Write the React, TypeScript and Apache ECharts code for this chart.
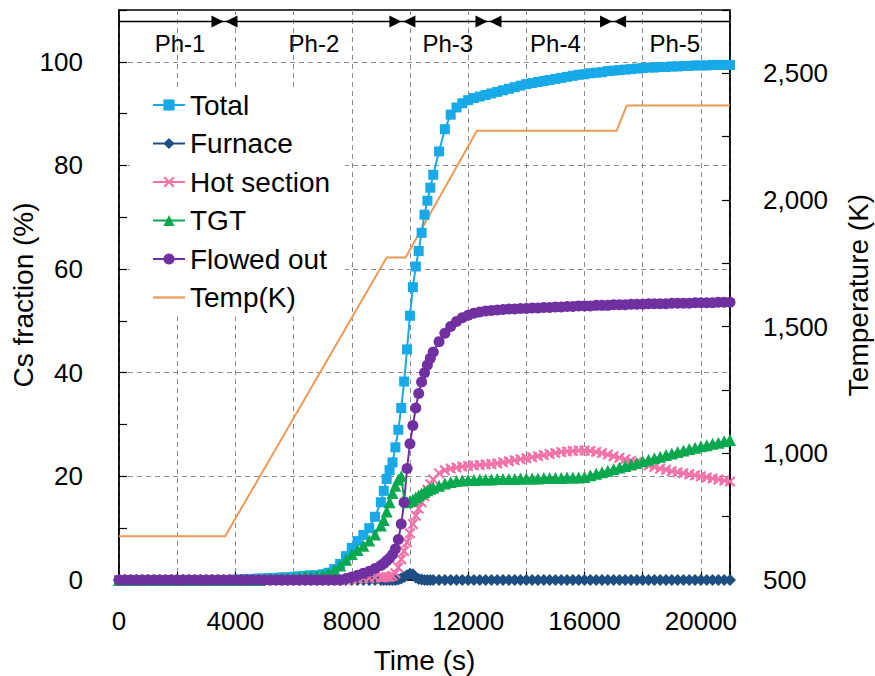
import React, { useEffect, useRef } from "react";
import * as echarts from "echarts";

const TIME = [
  0, 200, 400, 600, 800, 1000, 1200, 1400, 1600, 1800, 2000, 2200, 2400, 2600, 2800, 3000, 3200, 3400, 3600, 3800,
  4000, 4200, 4400, 4600, 4800, 5000, 5200, 5400, 5600, 5800, 6000, 6200, 6400, 6600, 6800, 7000, 7200, 7400, 7600, 7800,
  8000, 8200, 8400, 8600, 8800, 9000,
  9100, 9200, 9300, 9400, 9500, 9600, 9700, 9800, 9900, 10000, 10100, 10200, 10300, 10400, 10500, 10600, 10700, 10800,
  11000, 11200, 11400, 11600, 11800, 12000, 12200, 12400, 12600, 12800, 13000, 13200, 13400, 13600, 13800, 14000,
  14200, 14400, 14600, 14800, 15000, 15200, 15400, 15600, 15800, 16000, 16200, 16400, 16600, 16800, 17000, 17200,
  17400, 17600, 17800, 18000, 18200, 18400, 18600, 18800, 19000, 19200, 19400, 19600, 19800, 20000, 20200, 20400,
  20600, 20800, 21000,
];

const TOTAL = [
  0, 0, 0, 0, 0, 0, 0, 0, 0, 0, 0, 0, 0, 0, 0, 0, 0, 0, 0, 0,
  0.1, 0.1, 0.2, 0.2, 0.3, 0.3, 0.4, 0.4, 0.5, 0.5, 0.6, 0.7, 0.8, 0.9, 0.9, 1.1, 1.4, 2.1, 3.1, 4.6,
  6.2, 7.5, 8.7, 10.0, 12.2, 15.0,
  17.2, 19.5, 21.2, 22.7, 25.6, 29.0, 33.2, 38.3, 44.5, 51.0, 56.5, 60.5, 63.5, 67.0, 70.5, 73.2, 75.7, 78.2,
  82.7, 87.0, 89.8, 91.2, 92.0, 92.6, 93.0, 93.3, 93.6, 93.9, 94.2, 94.5, 94.8, 95.1, 95.4, 95.7,
  95.9, 96.1, 96.3, 96.5, 96.7, 96.9, 97.1, 97.3, 97.5, 97.6, 97.8, 97.9, 98.0, 98.2, 98.3, 98.4,
  98.5, 98.6, 98.7, 98.8, 98.9, 98.9, 99.0, 99.0, 99.1, 99.1, 99.2, 99.2, 99.3, 99.3, 99.3, 99.4,
  99.4, 99.4, 99.4,
];

const FURNACE = [
  0, 0, 0, 0, 0, 0, 0, 0, 0, 0, 0, 0, 0, 0, 0, 0, 0, 0, 0, 0,
  0, 0, 0, 0, 0, 0, 0, 0, 0, 0, 0, 0, 0, 0, 0, 0, 0, 0, 0, 0,
  0, 0, 0, 0, 0, 0,
  0, 0, 0, 0, 0, 0.1, 0.3, 0.6, 0.9, 1.2, 1.1, 0.5, 0.2, 0.1, 0, 0, 0, 0,
  0, 0, 0, 0, 0, 0, 0, 0, 0, 0, 0, 0, 0, 0, 0, 0,
  0, 0, 0, 0, 0, 0, 0, 0, 0, 0, 0, 0, 0, 0, 0, 0,
  0, 0, 0, 0, 0, 0, 0, 0, 0, 0, 0, 0, 0, 0, 0, 0,
  0, 0, 0,
];

const HOT_SECTION = [
  0, 0, 0, 0, 0, 0, 0, 0, 0, 0, 0, 0, 0, 0, 0, 0, 0, 0, 0, 0,
  0, 0, 0, 0, 0, 0, 0, 0, 0, 0, 0, 0, 0, 0, 0, 0, 0, 0, 0, 0,
  0.2, 0.3, 0.4, 0.4, 0.5, 0.5,
  0.5, 0.6, 0.6, 0.8, 1.3, 2.4, 4.0, 5.6, 7.3, 9.0, 10.8, 12.4, 13.8, 15.0, 16.2, 17.4, 18.5, 19.4,
  20.6, 21.2, 21.5, 21.7, 21.9, 22.0, 22.1, 22.2, 22.3, 22.4, 22.5, 22.7, 22.9, 23.1, 23.3, 23.5,
  23.7, 23.9, 24.1, 24.3, 24.5, 24.7, 24.8, 24.9, 25.0, 25.0, 24.9, 24.7, 24.5, 24.2, 23.9, 23.6,
  23.3, 23.0, 22.7, 22.4, 22.1, 21.8, 21.5, 21.3, 21.0, 20.8, 20.6, 20.4, 20.2, 20.0, 19.8, 19.6,
  19.4, 19.2, 19.0,
];

const TGT = [
  0, 0, 0, 0, 0, 0, 0, 0, 0, 0, 0, 0, 0, 0, 0, 0, 0, 0, 0, 0,
  0, 0, 0, 0, 0, 0.2, 0.2, 0.3, 0.4, 0.4, 0.5, 0.6, 0.7, 0.8, 0.8, 1.0, 1.3, 1.9, 2.8, 3.9,
  5.0, 5.8, 6.6, 7.6, 8.8, 10.5,
  11.6, 13.2, 15.0, 16.8, 18.2, 19.4, 20.0, 15.6, 15.0, 15.2, 15.5, 15.9, 16.3, 16.7, 17.0, 17.3, 17.6, 17.8,
  18.2, 18.6, 18.9, 19.1, 19.2, 19.3, 19.3, 19.4, 19.4, 19.4, 19.5, 19.5, 19.5, 19.5, 19.6, 19.6,
  19.6, 19.6, 19.7, 19.7, 19.7, 19.7, 19.8, 19.8, 19.8, 19.9, 20.2, 20.5, 20.8, 21.1, 21.4, 21.7,
  22.0, 22.3, 22.6, 22.9, 23.2, 23.5, 23.8, 24.1, 24.4, 24.7, 25.0, 25.3, 25.5, 25.8, 26.0, 26.3,
  26.5, 26.8, 27.0,
];

const FLOWED_OUT = [
  0, 0, 0, 0, 0, 0, 0, 0, 0, 0, 0, 0, 0, 0, 0, 0, 0, 0, 0, 0,
  0, 0, 0, 0, 0, 0, 0, 0, 0, 0, 0, 0, 0, 0, 0, 0, 0, 0, 0, 0.3,
  0.6, 0.9, 1.3, 1.7, 2.2, 2.8,
  3.2, 3.7, 4.2, 4.9, 6.0, 7.8, 10.8, 15.0, 21.5, 26.3, 29.8, 33.2, 36.0, 38.2, 40.0, 41.5, 42.8, 44.0,
  46.0, 47.6, 48.9, 49.9, 50.6, 51.1, 51.5, 51.7, 51.9, 52.0, 52.1, 52.2, 52.3, 52.3, 52.4, 52.4,
  52.5, 52.5, 52.6, 52.6, 52.7, 52.7, 52.8, 52.8, 52.9, 52.9, 52.9, 53.0, 53.0, 53.0, 53.1, 53.1,
  53.1, 53.2, 53.2, 53.2, 53.3, 53.3, 53.3, 53.3, 53.4, 53.4, 53.4, 53.4, 53.5, 53.5, 53.5, 53.5,
  53.6, 53.6, 53.6,
];

const TEMP_T = [0, 3650, 9200, 9850, 12300, 17100, 17450, 21000];
const TEMP_K = [673, 673, 1773, 1773, 2273, 2273, 2373, 2373];

const PHASE_BOUNDS = [3625, 9740, 12700, 16980];
const PHASE_LABELS = ["Ph-1", "Ph-2", "Ph-3", "Ph-4", "Ph-5"];
const PHASE_LABEL_T = [2100, 6700, 11300, 15000, 19100];

const FONT = "'Liberation Sans', Arial, Helvetica, sans-serif";
const X_SYMBOL =
  "path://M0,1.4L1.4,0L5,3.6L8.6,0L10,1.4L6.4,5L10,8.6L8.6,10L5,6.4L1.4,10L0,8.6L3.6,5Z";
const BAR_ICON = "path://M0,0L32,0L32,2.2L0,2.2Z";

export default function App() {
  const ref = useRef<HTMLDivElement>(null);

  useEffect(() => {
    if (!ref.current) return;
    const chart = echarts.init(ref.current, null, { renderer: "svg" });
    const mk = (arr: number[]) => TIME.map((t, i) => [t, arr[i]]);
    const dash = { color: "#8c8c8c", type: [5, 4] as any, width: 1 };

    const lineSeries = (name: string, arr: number[], color: string, symbol: string, size: number) => ({
      name,
      type: "line",
      data: mk(arr),
      symbol,
      symbolSize: size,
      showAllSymbol: true,
      lineStyle: { color, width: 2 },
      itemStyle: { color },
      z: 3,
    });

    const nameStyle = { fontSize: 28, color: "#000", fontFamily: FONT };

    chart.setOption({
      animation: false,
      backgroundColor: "#fff",
      textStyle: { fontFamily: FONT },
      grid: {
        left: 119,
        right: 145,
        top: 10,
        bottom: 96,
        containLabel: false,
        outerBoundsMode: "none",
        show: true,
        borderColor: "#000",
        borderWidth: 1.5,
        backgroundColor: "transparent",
      },
      legend: {
        orient: "vertical",
        left: 130,
        top: 87,
        padding: [4, 15, 5, 22],
        backgroundColor: "#fff",
        itemWidth: 32,
        itemHeight: 14,
        itemGap: 10.5,
        textStyle: { fontSize: 28, color: "#000", fontFamily: FONT },
        data: [
          "Total",
          "Furnace",
          "Hot section",
          "TGT",
          "Flowed out",
          { name: "Temp(K)", icon: BAR_ICON },
        ],
        z: 10,
      },
      xAxis: {
        type: "value",
        min: 0,
        max: 21000,
        interval: 2000,
        axisLine: { show: true, lineStyle: { color: "#000", width: 1.5 } },
        axisTick: { show: true, inside: true, length: 8, lineStyle: { color: "#000", width: 1.2 } },
        axisLabel: {
          formatter: (v: number) => (v % 4000 === 0 && v <= 20000 ? String(v) : ""),
          fontSize: 26,
          color: "#000",
          margin: 28,
          fontFamily: FONT,
        },
        splitLine: { show: true, lineStyle: dash },
        name: "Time (s)",
        nameLocation: "middle",
        nameGap: 66,
        nameMoveOverlap: false,
        nameTextStyle: nameStyle,
      },
      yAxis: [
        {
          type: "value",
          min: 0,
          max: 110,
          interval: 10,
          position: "left",
          axisLine: { show: true, lineStyle: { color: "#000", width: 1.5 } },
          axisTick: { show: true, inside: true, length: 8, lineStyle: { color: "#000", width: 1.2 } },
          axisLabel: {
            formatter: (v: number) => (v % 20 === 0 && v <= 100 ? String(v) : ""),
            fontSize: 26,
            color: "#000",
            margin: 36,
            fontFamily: FONT,
          },
          splitLine: {
            show: true,
            lineStyle: { color: ["#8c8c8c", "rgba(0,0,0,0)"], type: [5, 4], width: 1 },
          },
          name: "Cs fraction (%)",
          nameLocation: "middle",
          nameGap: 82,
          nameRotate: 90,
          nameMoveOverlap: false,
          nameTextStyle: nameStyle,
        },
        {
          type: "value",
          min: 500,
          max: 2750,
          interval: 250,
          position: "right",
          axisLine: { show: true, lineStyle: { color: "#000", width: 1.5 } },
          axisTick: { show: true, inside: true, length: 8, lineStyle: { color: "#000", width: 1.2 } },
          axisLabel: {
            formatter: (v: number) =>
              v % 500 === 0 && v <= 2500 ? v.toLocaleString("en-US") : "",
            fontSize: 26,
            color: "#000",
            margin: 33,
            fontFamily: FONT,
          },
          splitLine: { show: false },
          name: "Temperature (K)",
          nameLocation: "middle",
          nameGap: 114,
          nameRotate: 90,
          nameMoveOverlap: false,
          nameTextStyle: nameStyle,
        },
      ],
      series: [
        lineSeries("Total", TOTAL, "#17a9e8", "rect", 10),
        lineSeries("Furnace", FURNACE, "#1f4e82", "diamond", 12),
        lineSeries("Hot section", HOT_SECTION, "#f271a8", X_SYMBOL, 11),
        lineSeries("TGT", TGT, "#0aa84f", "triangle", 12),
        lineSeries("Flowed out", FLOWED_OUT, "#7030a0", "circle", 11),
        {
          name: "Temp(K)",
          type: "line",
          yAxisIndex: 1,
          data: TEMP_T.map((t, i) => [t, TEMP_K[i]]),
          symbol: "none",
          lineStyle: { color: "#ef9a55", width: 2 },
          itemStyle: { color: "#ef9a55" },
          z: 2,
        },
      ],
    });

    const X = (t: number) => chart.convertToPixel({ xAxisIndex: 0 }, t) as number;
    const Y = (v: number) => chart.convertToPixel({ yAxisIndex: 0 }, v) as number;
    const yBand = Y(107.8);
    const elements: any[] = [
      {
        type: "line",
        shape: { x1: X(0), y1: yBand, x2: X(21000), y2: yBand },
        style: { stroke: "#000", lineWidth: 1.5 },
        z: 20,
      },
    ];
    PHASE_BOUNDS.forEach((b) => {
      const xb = X(b);
      elements.push({
        type: "polygon",
        shape: { points: [[xb - 13, yBand - 6], [xb - 1, yBand], [xb - 13, yBand + 6]] },
        style: { fill: "#000" },
        z: 20,
      });
      elements.push({
        type: "polygon",
        shape: { points: [[xb + 13, yBand - 6], [xb + 1, yBand], [xb + 13, yBand + 6]] },
        style: { fill: "#000" },
        z: 20,
      });
    });
    PHASE_LABELS.forEach((s, i) => {
      elements.push({
        type: "text",
        x: X(PHASE_LABEL_T[i]),
        y: Y(103.5),
        style: {
          text: s,
          fill: "#000",
          font: `24px ${FONT}`,
          align: "center",
          verticalAlign: "middle",
        },
        z: 20,
      });
    });
    chart.setOption({ graphic: { elements } });

    return () => chart.dispose();
  }, []);

  return (
    <div
      ref={ref}
      style={{ position: "fixed", left: 0, top: 0, width: 875, height: 676, background: "#fff" }}
    />
  );
}
